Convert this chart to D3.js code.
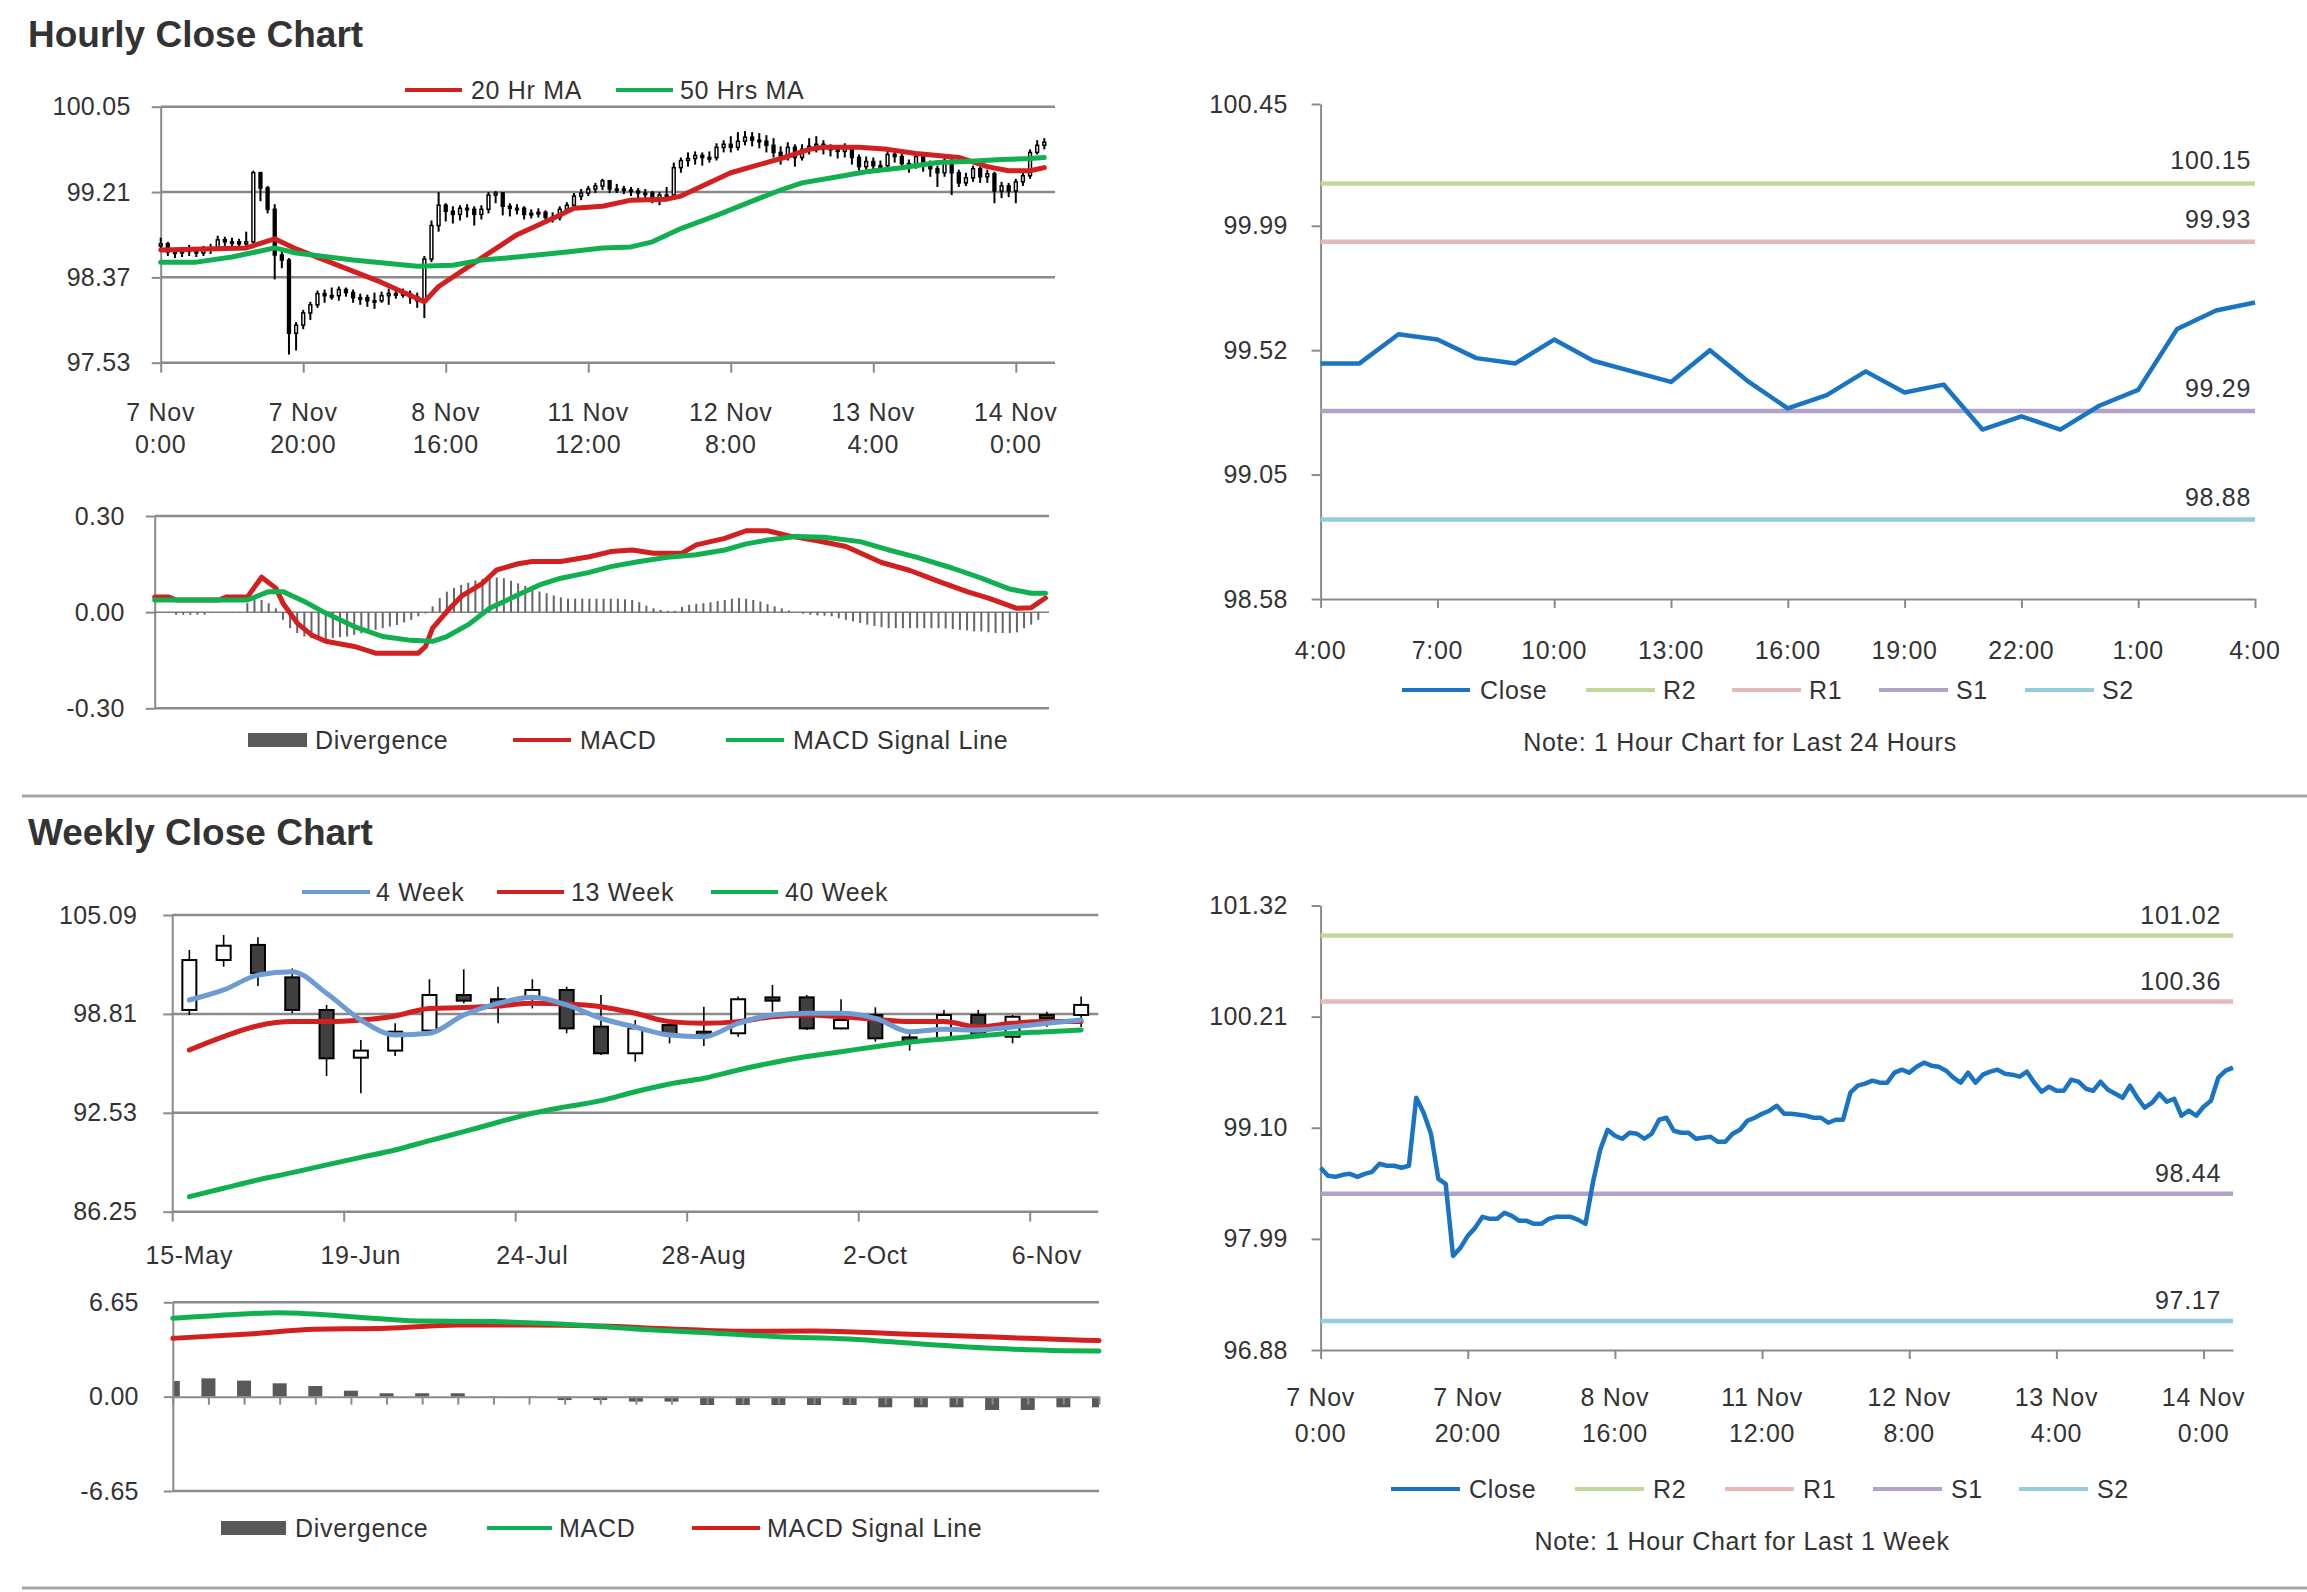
<!DOCTYPE html>
<html>
<head>
<meta charset="utf-8">
<script src="https://cdn.jsdelivr.net/npm/d3@7"></script>
<style>
  body { margin: 0; background: #fff; }
  svg text { font-family: "Liberation Sans", Arial, sans-serif; fill: #333; letter-spacing: 0.7px; }
  svg .tick text { letter-spacing: 0.3px; }
  svg text.title { letter-spacing: 0; }
</style>
</head>
<body>
<svg id="chart" width="2307" height="1592"></svg>
<script>
// ---------- hourly data (7 Nov 0:00 .. 14 Nov 4:00, 125 bars) ----------
var hourTickIdx = [0, 20, 40, 60, 80, 100, 120];
var hourTickTop = ['7 Nov', '7 Nov', '8 Nov', '11 Nov', '12 Nov', '13 Nov', '14 Nov'];
var hourTickBot = ['0:00', '20:00', '16:00', '12:00', '8:00', '4:00', '0:00'];

var hourClose = [98.70,98.62,98.61,98.63,98.64,98.61,98.64,98.66,98.74,98.72,
  98.72,98.70,98.72,99.40,99.25,99.04,98.59,98.54,97.82,97.90,
  98.02,98.10,98.21,98.19,98.19,98.25,98.22,98.17,98.17,98.14,
  98.14,98.19,98.21,98.21,98.21,98.18,98.14,98.55,98.88,99.08,
  99.02,98.99,99.05,99.04,98.99,99.04,99.18,99.20,99.07,99.05,
  99.05,98.99,99.00,99.01,98.96,98.96,99.04,99.08,99.17,99.20,
  99.24,99.27,99.32,99.24,99.24,99.23,99.22,99.20,99.20,99.15,
  99.18,99.18,99.45,99.52,99.54,99.57,99.55,99.55,99.65,99.68,
  99.65,99.71,99.75,99.72,99.71,99.67,99.60,99.55,99.65,99.55,
  99.63,99.66,99.68,99.64,99.63,99.61,99.66,99.55,99.46,99.51,
  99.47,99.47,99.58,99.56,99.49,99.47,99.56,99.48,99.44,99.40,
  99.52,99.40,99.30,99.35,99.44,99.36,99.39,99.22,99.27,99.22,
  99.31,99.37,99.60,99.67,99.70];

var hourOpen = [98.68,98.70,98.62,98.61,98.63,98.64,98.61,98.64,98.66,98.74,
  98.72,98.72,98.70,98.72,99.40,99.25,99.04,98.59,98.54,97.82,
  97.90,98.02,98.10,98.21,98.19,98.19,98.25,98.22,98.17,98.17,
  98.14,98.14,98.19,98.21,98.21,98.21,98.18,98.14,98.55,98.88,
  99.08,99.02,98.99,99.05,99.04,98.99,99.04,99.18,99.20,99.07,
  99.05,99.05,98.99,99.00,99.01,98.96,98.96,99.04,99.08,99.17,
  99.20,99.24,99.27,99.32,99.24,99.24,99.23,99.22,99.20,99.20,
  99.15,99.18,99.18,99.45,99.52,99.54,99.57,99.55,99.55,99.65,
  99.68,99.65,99.71,99.75,99.72,99.71,99.67,99.60,99.55,99.65,
  99.55,99.63,99.66,99.68,99.64,99.63,99.61,99.66,99.55,99.46,
  99.51,99.47,99.47,99.58,99.56,99.49,99.47,99.56,99.48,99.44,
  99.40,99.52,99.40,99.30,99.35,99.44,99.36,99.39,99.22,99.27,
  99.22,99.31,99.37,99.60,99.67];

var hourHigh = [98.76,98.72,98.66,98.67,98.69,98.67,98.68,98.70,98.78,98.77,
  98.76,98.75,98.82,99.42,99.41,99.27,99.09,98.62,98.56,97.93,
  98.05,98.13,98.24,98.25,98.27,98.28,98.27,98.25,98.21,98.20,
  98.22,98.23,98.26,98.25,98.26,98.24,98.22,98.58,98.93,99.21,
  99.10,99.07,99.08,99.09,99.07,99.08,99.21,99.22,99.21,99.10,
  99.09,99.07,99.04,99.05,99.03,99.01,99.07,99.11,99.20,99.24,
  99.27,99.30,99.34,99.33,99.29,99.27,99.26,99.25,99.24,99.22,
  99.21,99.26,99.50,99.55,99.60,99.61,99.60,99.61,99.69,99.72,
  99.76,99.80,99.81,99.80,99.79,99.77,99.74,99.66,99.70,99.68,
  99.68,99.74,99.76,99.72,99.68,99.66,99.69,99.67,99.58,99.56,
  99.55,99.52,99.62,99.63,99.59,99.53,99.60,99.58,99.52,99.47,
  99.56,99.54,99.43,99.40,99.47,99.46,99.43,99.41,99.31,99.30,
  99.34,99.41,99.63,99.72,99.74];

var hourLow = [98.62,98.58,98.56,98.57,98.58,98.57,98.58,98.60,98.63,98.68,
  98.67,98.66,98.67,98.70,99.12,99.00,98.35,98.46,97.61,97.65,
  97.86,97.95,98.07,98.12,98.15,98.14,98.18,98.12,98.10,98.08,
  98.06,98.12,98.10,98.16,98.17,98.11,98.07,97.97,98.52,98.82,
  98.92,98.90,98.93,98.96,98.88,98.94,99.00,99.10,98.98,98.97,
  98.99,98.94,98.95,98.96,98.92,98.91,98.93,99.01,99.05,99.13,
  99.17,99.20,99.23,99.20,99.20,99.19,99.17,99.15,99.14,99.10,
  99.08,99.12,99.16,99.40,99.46,99.48,99.47,99.50,99.52,99.60,
  99.60,99.62,99.67,99.66,99.64,99.60,99.55,99.48,99.52,99.46,
  99.52,99.58,99.60,99.58,99.56,99.54,99.55,99.48,99.42,99.43,
  99.42,99.41,99.44,99.50,99.44,99.40,99.44,99.41,99.36,99.26,
  99.36,99.18,99.26,99.27,99.31,99.30,99.30,99.10,99.15,99.16,
  99.10,99.27,99.34,99.58,99.63];

// moving averages as [bar index, value]
var hourMA20 = [[0,98.64],[12,98.66],[16,98.75],[19,98.65],[31,98.32],[37,98.13],[39,98.28],
  [45,98.56],[50,98.79],[55,98.95],[58,99.05],[62,99.07],[66,99.13],[71,99.14],[73,99.17],
  [76,99.27],[80,99.40],[85,99.50],[88,99.56],[91,99.63],[93,99.65],[98,99.65],[102,99.63],
  [106,99.59],[112,99.55],[116,99.46],[119,99.42],[122,99.42],[124,99.45]];
var hourMA50 = [[0,98.52],[5,98.52],[10,98.57],[16,98.66],[19,98.61],[27,98.54],[36,98.48],
  [41,98.49],[45,98.54],[50,98.57],[57,98.62],[62,98.66],[66,98.67],[69,98.72],[73,98.85],
  [78,98.98],[83,99.12],[87,99.23],[90,99.30],[95,99.36],[99,99.41],[104,99.45],[109,99.50],
  [113,99.51],[118,99.53],[122,99.54],[124,99.55]];

var hourPriceTicks = [97.53, 98.37, 99.21, 100.05];
var hourPriceLabels = ['97.53', '98.37', '99.21', '100.05'];

// hourly MACD
var hourMacd = [[0,0.047],[2,0.047],[3,0.038],[9,0.038],[10,0.047],[13,0.047],[15,0.109],[17,0.075],
  [18,0.028],[20,-0.034],[22,-0.071],[24,-0.091],[28,-0.107],[31,-0.128],[37,-0.128],[38,-0.107],
  [39,-0.05],[41,0.002],[43,0.049],[46,0.09],[48,0.132],[51,0.151],[53,0.158],[57,0.158],
  [61,0.173],[64,0.189],[67,0.194],[70,0.184],[74,0.184],[76,0.21],[80,0.23],[83,0.254],
  [86,0.254],[89,0.238],[93,0.223],[97,0.205],[102,0.155],[106,0.13],[110,0.096],[114,0.064],
  [117,0.044],[121,0.012],[123,0.014],[125,0.044]];
var hourSignal = [[0,0.038],[13,0.038],[16,0.064],[18,0.064],[21,0.033],[24,-0.003],[28,-0.045],
  [32,-0.076],[36,-0.088],[39,-0.091],[41,-0.076],[44,-0.039],[47,0.012],[51,0.054],[54,0.085],
  [57,0.106],[61,0.124],[64,0.142],[68,0.158],[72,0.171],[76,0.179],[80,0.194],[83,0.213],
  [86,0.225],[90,0.236],[94,0.234],[99,0.22],[103,0.194],[107,0.171],[112,0.137],[116,0.106],
  [120,0.072],[123,0.059],[125,0.059]];
var hourDiverg = [-0.002,-0.002,-0.002,-0.008,-0.008,-0.008,-0.008,-0.008,-0.002,-0.002,
  -0.002,-0.002,-0.002,0.028,0.049,0.038,0.028,0.012,-0.024,-0.05,
  -0.065,-0.076,-0.081,-0.086,-0.084,-0.081,-0.078,-0.076,-0.071,-0.066,
  -0.06,-0.055,-0.05,-0.045,-0.04,-0.032,-0.024,-0.013,-0.004,0.018,
  0.044,0.064,0.075,0.085,0.092,0.099,0.104,0.108,0.108,0.106,
  0.098,0.09,0.082,0.075,0.064,0.059,0.052,0.046,0.042,0.042,
  0.042,0.042,0.042,0.042,0.042,0.042,0.04,0.038,0.031,0.02,
  0.012,0.007,0.004,0.004,0.016,0.023,0.026,0.028,0.031,0.035,
  0.038,0.042,0.044,0.042,0.038,0.033,0.025,0.018,0.012,0.005,
  0,-0.005,-0.008,-0.01,-0.011,-0.013,-0.019,-0.024,-0.029,-0.034,
  -0.039,-0.043,-0.047,-0.05,-0.05,-0.05,-0.05,-0.05,-0.05,-0.05,
  -0.05,-0.051,-0.053,-0.055,-0.057,-0.06,-0.06,-0.063,-0.065,-0.065,
  -0.065,-0.063,-0.05,-0.039,-0.024];
var hourMacdTicks = [-0.30, 0.00, 0.30];
var hourMacdLabels = ['-0.30', '0.00', '0.30'];

// last 24 hours (13 Nov 4:00 .. 14 Nov 4:00)
var dayTickLabels = ['4:00','7:00','10:00','13:00','16:00','19:00','22:00','1:00','4:00'];
var dayTicks = [98.58, 99.05, 99.52, 99.99, 100.45];
var dayTickLabelsY = ['98.58', '99.05', '99.52', '99.99', '100.45'];
var dayLevels = [100.15, 99.93, 99.29, 98.88];
var levelNames = ['R2', 'R1', 'S1', 'S2'];

// hourly chart for the week: same closes, other levels
var weekHourTicks = [96.88, 97.99, 99.10, 100.21, 101.32];
var weekHourLabels = ['96.88', '97.99', '99.10', '100.21', '101.32'];
var weekHourLevels = [101.02, 100.36, 98.44, 97.17];

// ---------- weekly data (15 May .. 13 Nov, 27 weeks) ----------
var weekTickIdx = [0, 5, 10, 15, 20, 25];
var weekTickLabels = ['15-May', '19-Jun', '24-Jul', '28-Aug', '2-Oct', '6-Nov'];
var weekOpen  = [99.06,102.23,103.19,101.13,99.06,96.03,96.48,97.75,100.01,99.74,99.86,100.33,98.00,96.31,98.10,97.68,97.58,99.86,99.86,97.89,98.74,97.32,97.26,98.74,97.36,98.74,98.74];
var weekHigh  = [102.87,103.82,103.67,101.70,99.38,97.15,98.21,101.01,101.64,100.54,101.01,100.54,100.01,98.42,98.42,99.27,99.91,100.65,100.01,99.74,99.23,97.53,99.06,99.06,98.74,98.95,99.91];
var weekLow   = [98.74,101.81,100.58,98.85,94.87,93.77,96.14,97.47,99.48,98.21,99.16,97.58,96.20,95.78,96.94,96.77,97.36,98.95,97.79,97.83,97.05,96.48,97.20,97.26,96.94,98.00,97.98];
var weekClose = [102.23,103.14,101.39,99.06,95.99,96.48,97.68,100.01,99.65,99.48,100.33,97.89,96.31,97.89,97.47,97.47,99.74,99.65,97.89,98.42,97.26,97.07,98.74,97.41,98.63,98.53,99.38];
var week4  = [99.69,100.33,101.28,101.49,100.12,98.42,97.47,97.58,98.74,99.48,99.86,99.38,98.53,97.98,97.47,97.36,98.21,98.74,98.85,98.85,98.53,97.68,97.83,97.79,97.98,98.21,98.42];
var week13 = [96.52,97.37,98.06,98.32,98.32,98.42,98.68,99.16,99.21,99.31,99.48,99.44,99.27,98.85,98.32,98.21,98.32,98.63,98.74,98.63,98.47,98.32,98.32,97.98,98.21,98.32,98.32];
var week40 = [87.21,87.74,88.27,88.73,89.22,89.70,90.17,90.76,91.33,91.93,92.50,92.92,93.30,93.87,94.36,94.72,95.25,95.71,96.10,96.41,96.73,97.01,97.22,97.41,97.58,97.68,97.79];
var weekPriceTicks = [86.25, 92.53, 98.81, 105.09];
var weekPriceLabels = ['86.25', '92.53', '98.81', '105.09'];

var weekMacd = [[0,5.52],[2,5.83],[3,5.92],[5,5.64],[7,5.33],[9,5.29],[11,5.10],[13,4.77],[15,4.51],[17,4.23],[19,4.07],[21,3.71],[23,3.41],[25,3.24],[26,3.22]];
var weekSignal = [[0,4.11],[2,4.39],[4,4.75],[6,4.82],[8,5.05],[10,5.05],[12,4.98],[14,4.77],[16,4.61],[18,4.63],[20,4.46],[22,4.30],[24,4.11],[26,3.95]];
var weekDiverg = [1.10,1.29,1.13,0.94,0.75,0.42,0.24,0.24,0.24,0.02,0.02,-0.24,-0.24,-0.35,-0.35,-0.59,-0.59,-0.59,-0.59,-0.59,-0.75,-0.75,-0.75,-0.94,-0.94,-0.75,-0.75];
var weekMacdTicks = [-6.65, 0, 6.65];
var weekMacdLabels = ['-6.65', '0.00', '6.65'];

// ---------- drawing ----------
var FONT = '"Liberation Sans", Arial, sans-serif';
var FS = 25;
var GRID = '#8a8a8a';
var RED = '#d21f1f', GREEN = '#10b050', BLUE4 = '#6f9bd3', CLOSE = '#1b74c2', DIV = '#595959';
var LEVEL_COLORS = ['#c4d79b', '#e6b9b8', '#b3a2c7', '#93cddd'];

var svg = d3.select('#chart');

function grid(y, vals, x0, x1, color, w) {
  svg.append('g').selectAll('line').data(vals).join('line')
    .attr('x1', x0).attr('x2', x1)
    .attr('y1', function (d) { return y(d); }).attr('y2', function (d) { return y(d); })
    .attr('stroke', color).attr('stroke-width', w);
}

function leftAxis(y, x0, vals, labels, pad) {
  var a = svg.append('g').attr('transform', 'translate(' + x0 + ',0)')
    .call(d3.axisLeft(y).tickValues(vals).tickSize(9).tickSizeOuter(0).tickPadding(pad)
      .tickFormat(function (d, i) { return labels[i]; }));
  a.attr('font-family', FONT).attr('font-size', FS);
  a.select('.domain').attr('stroke', GRID).attr('stroke-width', 2);
  a.selectAll('.tick line').attr('stroke', GRID).attr('stroke-width', 2);
  a.selectAll('.tick text').attr('fill', '#333');
  return a;
}

function bottomTicks(x, y0, vals, len, withDomain) {
  var a = svg.append('g').attr('transform', 'translate(0,' + y0 + ')')
    .call(d3.axisBottom(x).tickValues(vals).tickSize(len).tickSizeOuter(0).tickFormat(''));
  a.select('.domain').attr('stroke', withDomain ? GRID : 'none').attr('stroke-width', 2);
  a.selectAll('.tick line').attr('stroke', GRID).attr('stroke-width', 2);
  return a;
}

function twoLineLabels(x, idx, top, bot, yTop, yBot) {
  var g = svg.append('g').attr('font-size', FS).attr('text-anchor', 'middle');
  g.selectAll('text.t').data(idx).join('text').attr('class', 't')
    .attr('x', function (d) { return x(d); }).attr('y', yTop)
    .text(function (d, i) { return top[i]; });
  g.selectAll('text.b').data(idx).join('text').attr('class', 'b')
    .attr('x', function (d) { return x(d); }).attr('y', yBot)
    .text(function (d, i) { return bot[i]; });
}

function legendLine(x1, x2, tx, y, color, label, w) {
  svg.append('line').attr('x1', x1).attr('x2', x2).attr('y1', y).attr('y2', y)
    .attr('stroke', color).attr('stroke-width', w || 4);
  svg.append('text').attr('x', tx).attr('y', y + 9).attr('font-size', FS).text(label);
}

function legendBox(x1, x2, tx, y, label) {
  svg.append('rect').attr('x', x1).attr('y', y - 7).attr('width', x2 - x1).attr('height', 14).attr('fill', DIV);
  svg.append('text').attr('x', tx).attr('y', y + 9).attr('font-size', FS).text(label);
}

function pairLine(x, y, data, color, w, curve) {
  svg.append('path').datum(data)
    .attr('d', d3.line().x(function (d) { return x(d[0]); }).y(function (d) { return y(d[1]); })
      .curve(curve || d3.curveLinear))
    .attr('fill', 'none').attr('stroke', color).attr('stroke-width', w)
    .attr('stroke-linejoin', 'round').attr('stroke-linecap', 'round');
}

// section titles and rules
svg.append('text').attr('class', 'title').attr('x', 28).attr('y', 47).attr('font-size', 37).attr('font-weight', 'bold').text('Hourly Close Chart');
svg.append('text').attr('class', 'title').attr('x', 28).attr('y', 845).attr('font-size', 37).attr('font-weight', 'bold').text('Weekly Close Chart');
svg.append('line').attr('x1', 22).attr('x2', 2307).attr('y1', 796).attr('y2', 796).attr('stroke', '#a6a6a6').attr('stroke-width', 3);
svg.append('line').attr('x1', 22).attr('x2', 2307).attr('y1', 1588).attr('y2', 1588).attr('stroke', '#a6a6a6').attr('stroke-width', 3);

// ===== A: hourly candles =====
(function () {
  var x = d3.scaleLinear().domain([0, 125.5]).range([160.7, 1055]);
  var y = d3.scaleLinear().domain([97.53, 100.05]).range([362.7, 106.7]);
  grid(y, hourPriceTicks, 160.7, 1055, GRID, 2.5);
  leftAxis(y, 160.7, hourPriceTicks, hourPriceLabels, 21);
  bottomTicks(x, 362.7, hourTickIdx, 10, false);
  twoLineLabels(x, hourTickIdx, hourTickTop, hourTickBot, 421, 453);

  var bars = svg.append('g');
  bars.selectAll('line').data(hourClose).join('line')
    .attr('x1', function (d, i) { return x(i); }).attr('x2', function (d, i) { return x(i); })
    .attr('y1', function (d, i) { return y(hourHigh[i]); }).attr('y2', function (d, i) { return y(hourLow[i]); })
    .attr('stroke', '#000').attr('stroke-width', 2);
  bars.selectAll('rect').data(hourClose).join('rect')
    .attr('x', function (d, i) { return x(i) - 1.4; }).attr('width', 2.8)
    .attr('y', function (d, i) { return y(Math.max(d, hourOpen[i])); })
    .attr('height', function (d, i) { return Math.max(1.5, Math.abs(y(d) - y(hourOpen[i]))); })
    .attr('fill', function (d, i) { return d >= hourOpen[i] ? '#fff' : '#000'; })
    .attr('stroke', '#000').attr('stroke-width', 1.5);

  pairLine(x, y, hourMA20, RED, 5);
  pairLine(x, y, hourMA50, GREEN, 5);
  legendLine(405, 462, 471, 90, RED, '20 Hr MA', 4);
  legendLine(616, 673, 680, 90, GREEN, '50 Hrs MA', 4);
})();

// ===== B: hourly MACD =====
(function () {
  var x = d3.scaleLinear().domain([0, 125.5]).range([154.7, 1049]);
  var y = d3.scaleLinear().domain([-0.3, 0.3]).range([708.3, 516]);
  grid(y, [-0.3, 0.3], 154.7, 1049, GRID, 2.5);
  grid(y, [0], 154.7, 1049, '#808080', 1.5);
  leftAxis(y, 154.7, hourMacdTicks, hourMacdLabels, 21);
  svg.append('g').selectAll('rect').data(hourDiverg).join('rect')
    .attr('x', function (d, i) { return x(i) - 1; }).attr('width', 2)
    .attr('y', function (d) { return y(Math.max(0, d)); })
    .attr('height', function (d) { return Math.abs(y(d) - y(0)); })
    .attr('fill', '#666');
  pairLine(x, y, hourMacd, RED, 5);
  pairLine(x, y, hourSignal, GREEN, 5);
  legendBox(248, 307, 315, 740, 'Divergence');
  legendLine(513, 571, 580, 740, RED, 'MACD', 4);
  legendLine(726, 784, 793, 740, GREEN, 'MACD Signal Line', 4);
})();

// ===== C: last 24 hours =====
(function () {
  var last = hourClose.slice(hourClose.length - 25);
  var x = d3.scaleLinear().domain([0, 24]).range([1320.6, 2255]);
  var y = d3.scaleLinear().domain([98.58, 100.45]).range([599, 104]);
  leftAxis(y, 1320.6, dayTicks, dayTickLabelsY, 24);
  var idx = d3.range(0, 25, 3);
  bottomTicks(x, 599, idx, 9, true);
  svg.append('g').attr('font-size', FS).attr('text-anchor', 'middle')
    .selectAll('text').data(idx).join('text')
    .attr('x', function (d) { return x(d); }).attr('y', 659)
    .text(function (d, i) { return dayTickLabels[i]; });

  dayLevels.forEach(function (v, k) {
    svg.append('line').attr('x1', x(0)).attr('x2', x(24)).attr('y1', y(v)).attr('y2', y(v))
      .attr('stroke', LEVEL_COLORS[k]).attr('stroke-width', 4.5);
    svg.append('text').attr('x', 2251).attr('y', y(v) - 14).attr('font-size', FS)
      .attr('text-anchor', 'end').text(v.toFixed(2));
  });
  svg.append('path').datum(last)
    .attr('d', d3.line().x(function (d, i) { return x(i); }).y(function (d) { return y(d); }))
    .attr('fill', 'none').attr('stroke', CLOSE).attr('stroke-width', 4.5).attr('stroke-linejoin', 'round');

  legendLine(1402, 1470, 1480, 690, CLOSE, 'Close', 4);
  levelNames.forEach(function (n, k) {
    var x1 = [1586, 1732, 1879, 2025][k];
    legendLine(x1, x1 + 69, x1 + 77, 690, LEVEL_COLORS[k], n, 4);
  });
  svg.append('text').attr('x', 1740).attr('y', 751).attr('font-size', FS).attr('text-anchor', 'middle')
    .text('Note: 1 Hour Chart for Last 24 Hours');
})();

// ===== D: weekly candles =====
(function () {
  var x = d3.scaleLinear().domain([0, 27]).range([172.2, 1098.3]);
  var y = d3.scaleLinear().domain([86.25, 105.09]).range([1211.7, 915]);
  grid(y, weekPriceTicks, 172.2, 1098.3, GRID, 2.5);
  leftAxis(y, 172.2, weekPriceTicks, weekPriceLabels, 26);
  bottomTicks(x, 1211.7, weekTickIdx, 10, false);
  svg.append('g').attr('font-size', FS).attr('text-anchor', 'middle')
    .selectAll('text').data(weekTickIdx).join('text')
    .attr('x', function (d) { return x(d + 0.5); }).attr('y', 1264)
    .text(function (d, i) { return weekTickLabels[i]; });

  var g = svg.append('g');
  g.selectAll('line').data(weekClose).join('line')
    .attr('x1', function (d, i) { return x(i + 0.5); }).attr('x2', function (d, i) { return x(i + 0.5); })
    .attr('y1', function (d, i) { return y(weekHigh[i]); }).attr('y2', function (d, i) { return y(weekLow[i]); })
    .attr('stroke', '#000').attr('stroke-width', 1.6);
  g.selectAll('rect').data(weekClose).join('rect')
    .attr('x', function (d, i) { return x(i + 0.5) - 7; }).attr('width', 14)
    .attr('y', function (d, i) { return y(Math.max(d, weekOpen[i])); })
    .attr('height', function (d, i) { return Math.max(2, Math.abs(y(d) - y(weekOpen[i]))); })
    .attr('fill', function (d, i) { return d >= weekOpen[i] ? '#fff' : '#404040'; })
    .attr('stroke', '#000').attr('stroke-width', 2);

  function wl(vals, color) {
    svg.append('path').datum(vals)
      .attr('d', d3.line().x(function (d, i) { return x(i + 0.5); }).y(function (d) { return y(d); }).curve(d3.curveMonotoneX))
      .attr('fill', 'none').attr('stroke', color).attr('stroke-width', 5).attr('stroke-linecap', 'round');
  }
  wl(week40, GREEN);
  wl(week13, RED);
  wl(week4, BLUE4);
  legendLine(302, 370, 376, 892, BLUE4, '4 Week', 4);
  legendLine(497, 564, 571, 892, RED, '13 Week', 4);
  legendLine(711, 778, 785, 892, GREEN, '40 Week', 4);
})();

// ===== E: weekly MACD =====
(function () {
  var x = d3.scaleLinear().domain([0, 26]).range([172.8, 1099]);
  var y = d3.scaleLinear().domain([-6.65, 6.65]).range([1491, 1302.3]);
  grid(y, [-6.65, 6.65], 172.8, 1099, GRID, 2.5);
  svg.append('clipPath').attr('id', 'clipE').append('rect')
    .attr('x', 172.8).attr('y', 1290).attr('width', 1099 - 172.8).attr('height', 210);
  svg.append('g').attr('clip-path', 'url(#clipE)').selectAll('rect').data(weekDiverg).join('rect')
    .attr('x', function (d, i) { return x(i) - 7; }).attr('width', 14)
    .attr('y', function (d) { return y(Math.max(0, d)); })
    .attr('height', function (d) { return Math.abs(y(d) - y(0)); })
    .attr('fill', DIV);
  bottomTicks(x, y(0), d3.range(0, 27), 8, true);
  leftAxis(y, 172.8, weekMacdTicks, weekMacdLabels, 25);
  pairLine(x, y, weekSignal, RED, 5, d3.curveMonotoneX);
  pairLine(x, y, weekMacd, GREEN, 5, d3.curveMonotoneX);
  legendBox(221, 286, 295, 1528, 'Divergence');
  legendLine(487, 552, 559, 1528, GREEN, 'MACD', 4);
  legendLine(692, 760, 767, 1528, RED, 'MACD Signal Line', 4);
})();

// ===== F: hourly closes for the week =====
(function () {
  var x = d3.scaleLinear().domain([0, 124]).range([1320.6, 2233]);
  var y = d3.scaleLinear().domain([96.88, 101.32]).range([1350, 905.5]);
  leftAxis(y, 1320.6, weekHourTicks, weekHourLabels, 24);
  bottomTicks(x, 1350, hourTickIdx, 9, true);
  twoLineLabels(x, hourTickIdx, hourTickTop, hourTickBot, 1406, 1442);
  weekHourLevels.forEach(function (v, k) {
    svg.append('line').attr('x1', x(0)).attr('x2', x(124)).attr('y1', y(v)).attr('y2', y(v))
      .attr('stroke', LEVEL_COLORS[k]).attr('stroke-width', 4.5);
    svg.append('text').attr('x', 2221).attr('y', y(v) - 12).attr('font-size', FS)
      .attr('text-anchor', 'end').text(v.toFixed(2));
  });
  svg.append('path').datum(hourClose)
    .attr('d', d3.line().x(function (d, i) { return x(i); }).y(function (d) { return y(d); }))
    .attr('fill', 'none').attr('stroke', CLOSE).attr('stroke-width', 4.5).attr('stroke-linejoin', 'round');
  legendLine(1391, 1460, 1469, 1489, CLOSE, 'Close', 4);
  levelNames.forEach(function (n, k) {
    var x1 = [1575, 1725, 1873, 2019][k];
    legendLine(x1, x1 + 69, x1 + 78, 1489, LEVEL_COLORS[k], n, 4);
  });
  svg.append('text').attr('x', 1742).attr('y', 1550).attr('font-size', FS).attr('text-anchor', 'middle')
    .text('Note: 1 Hour Chart for Last 1 Week');
})();
</script>
</body>
</html>
